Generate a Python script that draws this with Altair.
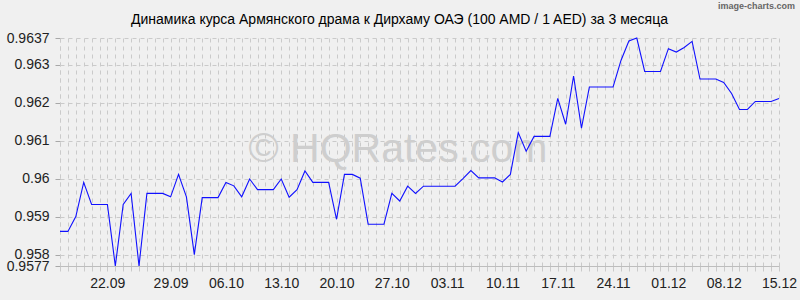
import json
import altair as alt
import pandas as pd

title = "Динамика курса Армянского драма к Дирхаму ОАЭ (100 AMD / 1 AED) за 3 месяца"
watermark = "© HQRates.com"
credit = "image-charts.com"
start_date = "2023-09-15"

rates = [
    0.95861, 0.95861, 0.9590, 0.9599, 0.95932, 0.95932, 0.95932, 0.9577, 0.95932, 0.95961,
    0.9577, 0.95961, 0.95961, 0.95961, 0.95952, 0.96011, 0.95952, 0.9580, 0.9595, 0.9595,
    0.9595, 0.9599, 0.95981, 0.95952, 0.95999, 0.95971, 0.95971, 0.95971, 0.95999, 0.95951,
    0.95971, 0.9602, 0.9599, 0.9599, 0.9599, 0.95893, 0.96011, 0.96011, 0.96001, 0.9588,
    0.9588, 0.9588, 0.95961, 0.95941, 0.9598, 0.95961, 0.9598, 0.9598, 0.9598, 0.9598,
    0.9598, 0.9600, 0.96021, 0.96002, 0.96002, 0.96002, 0.95991, 0.96011, 0.96121, 0.96072,
    0.96111, 0.96111, 0.96111, 0.96211, 0.96143, 0.9627, 0.96133, 0.96241, 0.96241, 0.96241,
    0.96241, 0.96311, 0.96362, 0.9637, 0.96282, 0.96282, 0.96282, 0.96342, 0.96333, 0.96345,
    0.96361, 0.96262, 0.96262, 0.96262, 0.96253, 0.96224, 0.96182, 0.96182, 0.96203, 0.96203,
    0.96203, 0.96211,
]
tick_labels = ["22.09", "29.09", "06.10", "13.10", "20.10", "27.10", "03.11",
               "10.11", "17.11", "24.11", "01.12", "08.12", "15.12"]
y_ticks = [0.9577, 0.958, 0.959, 0.96, 0.961, 0.962, 0.963, 0.9637]
y_min, y_max = 0.9577, 0.9637

dates = pd.date_range(start_date, periods=len(rates), freq="D")
ms = [int(d.timestamp() * 1000) for d in dates]
df = pd.DataFrame({"t": ms, "rate": rates})

FONT = "Liberation Sans"
GRID = "#cacaca"

label_expr = (
    f"indexof({json.dumps(tick_labels)}, utcFormat(datum.value, '%d.%m')) >= 0 "
    "? utcFormat(datum.value, '%d.%m') : ''"
)

x_enc = alt.X(
    "t:T",
    scale=alt.Scale(type="utc", domain=[ms[0], ms[-1]]),
    axis=alt.Axis(
        title=None,
        values=ms,
        labelExpr=label_expr,
        labelOverlap=False,
        labelFlush=False,
        labelFont=FONT,
        labelFontSize=14,
        labelColor="#222222",
        labelPadding=5,
        labelOffset={"condition": {"test": "utcFormat(datum.value, '%d.%m') == '22.09'", "value": -8}, "value": 0},
        grid=True,
        gridColor=GRID,
        gridDash=[4, 4],
        gridWidth=1,
        ticks=True,
        tickSize=5,
        tickColor=GRID,
        domain=True,
        domainColor="#bdbdbd",
        domainWidth=1,
    ),
)

y_enc = alt.Y(
    "rate:Q",
    scale=alt.Scale(domain=[y_min, y_max], nice=False, zero=False),
    axis=alt.Axis(
        title=None,
        values=y_ticks,
        labelExpr="format(datum.value, '~g')",
        labelOverlap=False,
        labelFont=FONT,
        labelFontSize=14,
        labelColor="#222222",
        labelPadding=6,
        grid=True,
        gridColor=GRID,
        gridDash=[4, 4],
        ticks=True,
        tickSize=5,
        tickColor="#a8a8a8",
        domain=True,
        domainColor=GRID,
        domainDash=[4, 4],
    ),
)

wm = alt.Chart(pd.DataFrame({"s": [watermark]})).mark_text(
    font=FONT, fontSize=41, color="#cecece", align="center", baseline="alphabetic"
).encode(text="s:N", x=alt.value(338), y=alt.value(124))

ttl = alt.Chart(pd.DataFrame({"s": [title]})).mark_text(
    font=FONT, fontSize=14, color="#000000", align="center", baseline="alphabetic"
).encode(text="s:N", x=alt.value(339.5), y=alt.value(-14))

cred = alt.Chart(pd.DataFrame({"s": [credit]})).mark_text(
    font=FONT, fontSize=9, fontWeight="bold", color="#666666", align="right", baseline="alphabetic"
).encode(text="s:N", x=alt.value(735), y=alt.value(-29))

line = alt.Chart(df).mark_line(color="#1010ff", strokeWidth=1.1).encode(x=x_enc, y=y_enc)

chart = alt.layer(wm, line, ttl, cred).properties(
    width=719,
    height=228,
    autosize=alt.AutoSizeParams(type="none"),
    padding={"left": 60, "top": 38, "right": 21, "bottom": 34},
    background="#f0f0f0",
).configure_view(stroke=None)

chart.save("out.html", embed_options={"renderer": "svg", "actions": False})
